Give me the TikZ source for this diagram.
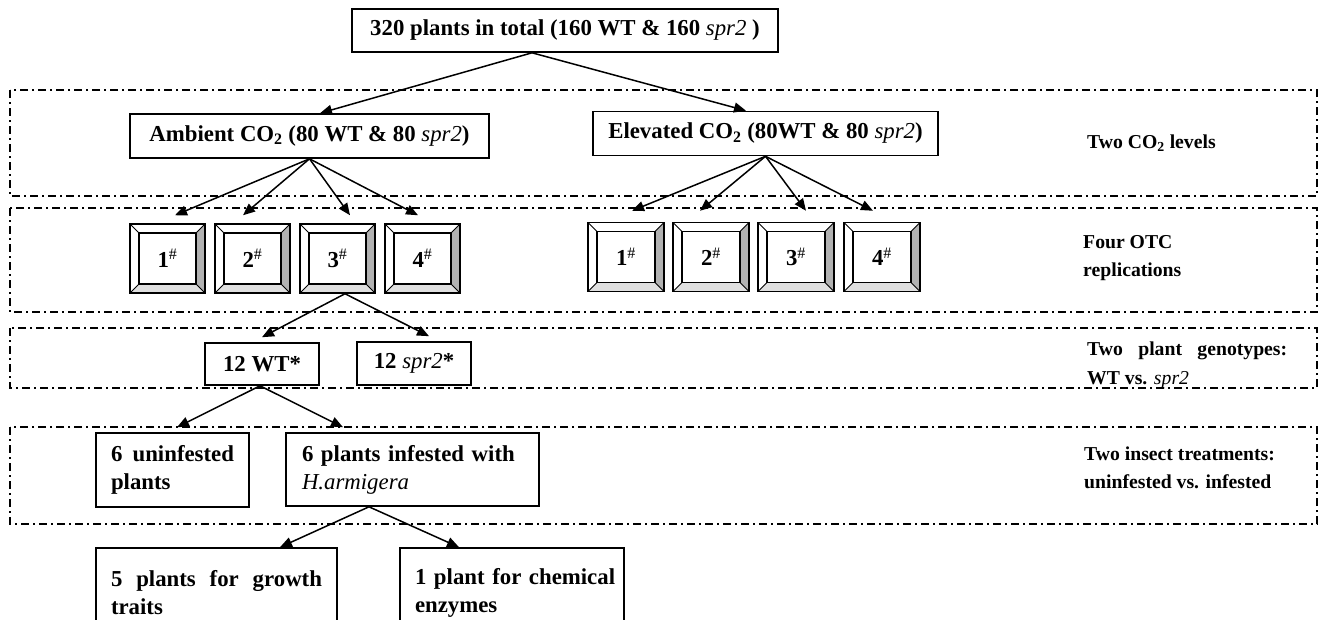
\documentclass[tikz,border=0pt]{standalone}
\usepackage{fontspec}
\setmainfont{Liberation Serif}
\usetikzlibrary{arrows.meta}

\newcommand{\spr}{\textmd{\textit{spr2}}}
\newcommand{\cotwo}{CO\textsubscript{2}}

\begin{document}
\begin{tikzpicture}[x=1pt, y=-1pt,
    font=\fontsize{22.8}{28}\selectfont\bfseries,
    box/.style={draw, line width=1.6pt, inner sep=0pt, align=left},
    link/.style={line width=1.5pt, -{Triangle[length=12pt, width=10pt]}},
    level/.style={line width=1.6pt, dash pattern=on 8pt off 4pt on 2pt off 4pt},
    note/.style={font=\fontsize{19.7}{28.5}\selectfont\bfseries, anchor=west, align=left, inner sep=0pt},
    otc/.style={draw, line width=1.5pt, minimum width=75pt, minimum height=69pt, inner sep=0pt,
      path picture={
        \path (path picture bounding box.north west) coordinate (p1)
              (path picture bounding box.north east) coordinate (p2)
              (path picture bounding box.south east) coordinate (p3)
              (path picture bounding box.south west) coordinate (p4)
              ([shift={(9pt,-9pt)}]p1) coordinate (q1)
              ([shift={(-9pt,-9pt)}]p2) coordinate (q2)
              ([shift={(-9pt,9pt)}]p3) coordinate (q3)
              ([shift={(9pt,9pt)}]p4) coordinate (q4);
        \fill[gray!60] (p2) -- (p3) -- (q3) -- (q2) -- cycle;
        \fill[gray!25] (p3) -- (p4) -- (q4) -- (q3) -- cycle;
        \draw[line width=0.9pt] (p1) -- (q1) (p2) -- (q2) (p3) -- (q3) (p4) -- (q4);
        \draw[line width=1.5pt] (q1) rectangle (q3);
      }}]
  \useasboundingbox (0,0) rectangle (1319,619);

  % factor levels
  \draw[level] (10,90) rectangle (1317,196);
  \draw[level] (10,208) rectangle (1317,312);
  \draw[level] (10,328) rectangle (1317,388);
  \draw[level] (10,427) rectangle (1317,524);

  \node[note] (lvco) at (1087,143) {Two \cotwo\ levels};
  \node[note] (lvotc) at (1083,258) {Four OTC\\replications};
  \node[note] (lvgeno) at (1087,365.5) {\makebox[200pt][s]{Two plant genotypes:}\\WT vs. \spr};
  \node[note] (lvinsect) at (1084,468) {Two insect treatments:\\uninfested vs. infested};

  % boxes
  \node[box, minimum width=426pt, minimum height=43pt] (total) at (565,30.5) {320 plants in total (160 WT \& 160 \spr\ )};
  \node[box, minimum width=359pt, minimum height=44pt] (amb) at (309.5,136) {Ambient \cotwo\ (80 WT \& 80 \spr)};
  \node[box, minimum width=345pt, minimum height=44pt] (elev) at (765.5,133.5) {Elevated \cotwo\ (80WT \& 80 \spr)};

  \foreach \i/\x in {1/167.5, 2/252.5, 3/337.5, 4/422.5}
    \node[otc] (a\i) at (\x,258.5) {\i\textsuperscript{\mdseries\#}};
  \foreach \i/\x in {1/626, 2/711, 3/796, 4/882}
    \node[otc, minimum width=76pt] (b\i) at (\x,257) {\i\textsuperscript{\mdseries\#}};

  \node[box, minimum width=114pt, minimum height=42pt] (wt) at (262,364) {12 WT*};
  \node[box, minimum width=114pt, minimum height=43pt] (mut) at (414,363.5) {12 \spr*};

  \node[box, minimum width=153pt, minimum height=74pt] (uninf) at (172.5,470) {\makebox[123pt][s]{6 uninfested}\\plants};
  \node[box, minimum width=253pt, minimum height=73pt, text width=221pt] (inf) at (412.5,469.5) {6 plants infested with\\\textmd{\textit{H.armigera}}};

  \node[box, minimum width=241pt, minimum height=90pt] (grow) at (216.5,593) {\makebox[211pt][s]{5 plants for growth}\\traits};
  \node[box, minimum width=224pt, minimum height=90pt, text width=194pt] (chem) at (512,593) {\mbox{1 plant for chemical}\\enzymes};

  % arrows
  \draw[link] ([xshift=-33pt]total.south) -- ([xshift=10.5pt]amb.north);
  \draw[link] ([xshift=-33pt]total.south) -- ([xshift=-19.5pt]elev.north);

  \foreach \i/\dx in {1/7.5, 2/-9.5, 3/12.5, 4/-4.5}
    \draw[link] (amb.south) -- ([shift={(\dx pt,8pt)}]a\i.north);
  \foreach \i/\dx in {1/6, 2/-11, 3/10, 4/-9}
    \draw[link] (elev.south) -- ([shift={(\dx pt,11pt)}]b\i.north);

  \draw[link] ([xshift=7.5pt]a3.south) -- ([yshift=5pt]wt.north);
  \draw[link] ([xshift=7.5pt]a3.south) -- ([shift={(15pt,5pt)}]mut.north);

  \draw[link] ([xshift=-2pt]wt.south) -- ([shift={(4.5pt,5pt)}]uninf.north);
  \draw[link] ([xshift=-2pt]wt.south) -- ([shift={(-69.5pt,5pt)}]inf.north);

  \draw[link] ([xshift=-43.5pt]inf.south) -- ([xshift=63.5pt]grow.north);
  \draw[link] ([xshift=-43.5pt]inf.south) -- ([xshift=-53pt]chem.north);
\end{tikzpicture}
\end{document}
